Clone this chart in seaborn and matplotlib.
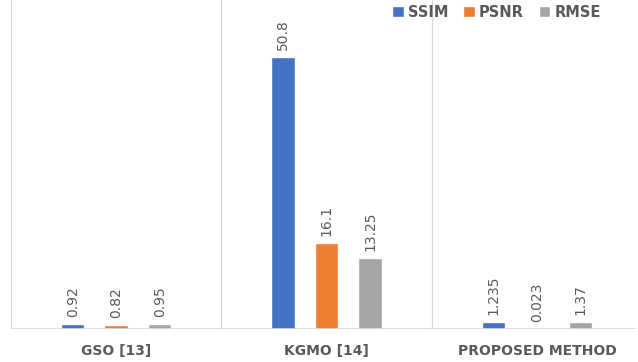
import matplotlib
matplotlib.use("Agg")
import matplotlib.pyplot as plt
import seaborn as sns
import pandas as pd

categories = ["GSO [13]", "KGMO [14]", "PROPOSED METHOD"]
series = ["SSIM", "PSNR", "RMSE"]
ssim = [0.92, 50.8, 1.235]
psnr = [0.82, 16.1, 0.023]
rmse = [0.95, 13.25, 1.37]
colors = ["#4472C4", "#ED7D31", "#A5A5A5"]

rows = []
for s, vals in zip(series, [ssim, psnr, rmse]):
    for c, v in zip(categories, vals):
        rows.append({"Method": c, "Metric": s, "Value": v})
df = pd.DataFrame(rows)

sns.set_style("white")
plt.rcParams['font.family'] = ['DejaVu Sans']

fig = plt.figure(figsize=(6.38, 3.62), dpi=100)
ax = fig.add_axes([11/638, 33/362, (636-11)/638, (362-33)/362])

sns.barplot(data=df, x="Method", y="Value", hue="Metric", order=categories,
            hue_order=series, palette=colors, width=0.62, gap=0.46,
            saturation=1, ax=ax, legend=True)

for cont in ax.containers:
    ax.bar_label(cont, fmt="%g", rotation=90, padding=5, fontsize=10,
                 color="#595959")

ax.set_xlim(-0.5, 2.47)
ax.set_ylim(0, 61.5)
for xv in [-0.5, 0.5, 1.5]:
    ax.axvline(xv, color="#D9D9D9", lw=0.9, zorder=0)
ax.axhline(0, color="#D9D9D9", lw=1.2, zorder=1)

ax.set_yticks([])
ax.set_xlabel("")
ax.set_ylabel("")
for sp in ax.spines.values():
    sp.set_visible(False)
ax.tick_params(axis="x", length=0, pad=11)
for lbl in ax.get_xticklabels():
    lbl.set_fontsize(10)
    lbl.set_fontweight("bold")
    lbl.set_color("#595959")

leg = ax.legend(loc="upper right", ncol=3, frameon=False, fontsize=10.5,
                handlelength=0.8, handleheight=0.8, handletextpad=0.3,
                columnspacing=1.0, bbox_to_anchor=(0.965, 1.025))
for t in leg.get_texts():
    t.set_color("#595959")
    t.set_fontweight("bold")

fig.savefig("out.png", dpi=100, facecolor="white")
